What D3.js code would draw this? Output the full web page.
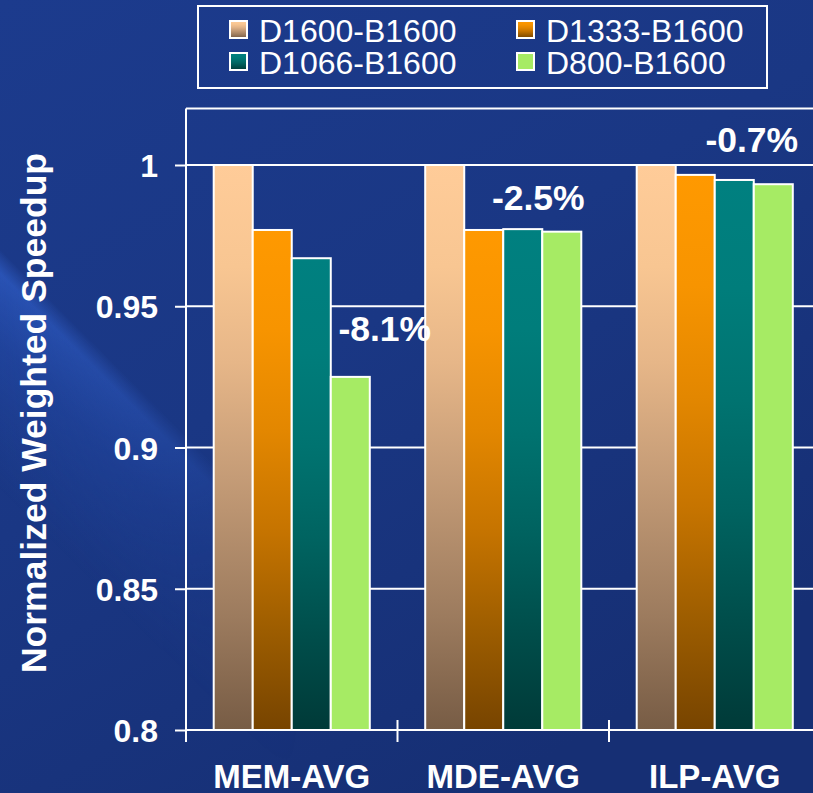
<!DOCTYPE html>
<html>
<head>
<meta charset="utf-8">
<script src="https://cdn.jsdelivr.net/npm/d3@7"></script>
<style>
  html, body { margin: 0; padding: 0; background: #1a3685; }
  svg { display: block; }
  text { font-family: "Liberation Sans", Arial, Helvetica, sans-serif; fill: #ffffff; }
</style>
</head>
<body>
<svg id="chart" width="813" height="793"></svg>
<script>
// Benchmark groups and DRAM/bus frequency configurations
const categories = ["MEM-AVG", "MDE-AVG", "ILP-AVG"];
const seriesNames = ["D1600-B1600", "D1333-B1600", "D1066-B1600", "D800-B1600"];

// Normalized weighted speedup per configuration (one array per series, by category)
const d1600 = [1.000, 1.000, 1.000];
const d1333 = [0.977, 0.977, 0.9965];
const d1066 = [0.967, 0.9773, 0.9947];
const d800  = [0.925, 0.9764, 0.9932];

const yTicks = [0.8, 0.85, 0.9, 0.95, 1];
const yTickLabels = ["0.8", "0.85", "0.9", "0.95", "1"];

// Slowdown callouts for the slowest configuration
const calloutCategories = ["MEM-AVG", "MDE-AVG", "ILP-AVG"];
const calloutTexts = ["-8.1%", "-2.5%", "-0.7%"];

const seriesValues = [d1600, d1333, d1066, d800];
const table = categories.map((c, i) => ({
  category: c,
  values: seriesNames.map((s, j) => ({ series: s, value: seriesValues[j][i] }))
}));

const W = 813, H = 793;
const svg = d3.select("#chart");
const defs = svg.append("defs");

// ---------- background ----------
const bg = defs.append("linearGradient").attr("id", "bg")
  .attr("x1", 0).attr("y1", 0).attr("x2", 0.6).attr("y2", 1);
bg.append("stop").attr("offset", 0).attr("stop-color", "#1c3b8d");
bg.append("stop").attr("offset", 0.5).attr("stop-color", "#1a3784");
bg.append("stop").attr("offset", 1).attr("stop-color", "#162f74");
svg.append("rect").attr("width", W).attr("height", H).attr("fill", "url(#bg)");

// diagonal light streak on the left side
const streak = defs.append("linearGradient").attr("id", "streak")
  .attr("gradientUnits", "userSpaceOnUse")
  .attr("x1", 97).attr("y1", 346).attr("x2", -23).attr("y2", 466);
streak.append("stop").attr("offset", 0).attr("stop-color", "#3a6ad8").attr("stop-opacity", 0);
streak.append("stop").attr("offset", 0.1).attr("stop-color", "#3364d2").attr("stop-opacity", 0.6);
streak.append("stop").attr("offset", 0.4).attr("stop-color", "#2b58c2").attr("stop-opacity", 0.35);
streak.append("stop").attr("offset", 1).attr("stop-color", "#2450b0").attr("stop-opacity", 0);
const fade = defs.append("linearGradient").attr("id", "fadeX")
  .attr("gradientUnits", "userSpaceOnUse")
  .attr("x1", 0).attr("y1", 0).attr("x2", 300).attr("y2", 0);
fade.append("stop").attr("offset", 0).attr("stop-color", "#fff");
fade.append("stop").attr("offset", 0.45).attr("stop-color", "#999");
fade.append("stop").attr("offset", 1).attr("stop-color", "#000");
defs.append("mask").attr("id", "streakMask")
  .append("rect").attr("width", W).attr("height", H).attr("fill", "url(#fadeX)");
svg.append("rect").attr("width", W).attr("height", H)
  .attr("fill", "url(#streak)").attr("mask", "url(#streakMask)");

// ---------- bar gradients ----------
const gradStops = {
  "D1600-B1600": [[0, "#ffcc99"], [0.18, "#f8c692"], [0.35, "#e6b688"], [0.55, "#c59c77"], [0.8, "#9c7b5e"], [1, "#775c45"]],
  "D1333-B1600": [[0, "#ff9900"], [0.2, "#f79400"], [0.4, "#e38700"], [0.6, "#c67400"], [0.8, "#9d5d00"], [1, "#774400"]],
  "D1066-B1600": [[0, "#008080"], [0.2, "#007d7b"], [0.4, "#007370"], [0.6, "#006360"], [0.8, "#004e4b"], [1, "#003a38"]],
  "D800-B1600":  [[0, "#a6eb64"], [1, "#a6eb64"]]
};
seriesNames.forEach((s, i) => {
  const g = defs.append("linearGradient").attr("id", "g" + i)
    .attr("x1", 0).attr("y1", 0).attr("x2", 0).attr("y2", 1);
  gradStops[s].forEach(([o, c]) => g.append("stop").attr("offset", o).attr("stop-color", c));
});
const fillOf = s => "url(#g" + seriesNames.indexOf(s) + ")";

// ---------- scales ----------
const plotLeft = 186, plotRight = 820.5;
const y = d3.scaleLinear().domain([0.8, 1.0]).range([730, 165]);
const yTop = y(1.02);

const x0 = d3.scaleBand().domain(categories).range([plotLeft, plotRight])
  .paddingInner(0.262).paddingOuter(0.131);
const x1 = d3.scaleBand().domain(seriesNames).range([0, x0.bandwidth()]).padding(0);

// ---------- plot frame, gridlines ----------
svg.append("line").attr("x1", plotLeft).attr("x2", W).attr("y1", yTop).attr("y2", yTop)
  .attr("stroke", "#ffffff").attr("stroke-width", 2);

svg.append("g").selectAll("line").data(yTicks.filter(t => t > 0.8)).join("line")
  .attr("x1", plotLeft).attr("x2", W)
  .attr("y1", d => y(d)).attr("y2", d => y(d))
  .attr("stroke", "#ffffff").attr("stroke-width", 2);

// ---------- bars ----------
const groups = svg.append("g").selectAll("g").data(table).join("g")
  .attr("transform", d => `translate(${x0(d.category)},0)`);
groups.selectAll("rect").data(d => d.values).join("rect")
  .attr("x", d => x1(d.series))
  .attr("y", d => y(d.value))
  .attr("width", x1.bandwidth())
  .attr("height", d => y(0.8) - y(d.value))
  .attr("fill", d => fillOf(d.series))
  .attr("stroke", "#ffffff").attr("stroke-width", 2);

// ---------- axes ----------
const yAxis = d3.axisLeft(y).tickValues(yTicks).tickSize(11).tickPadding(17)
  .tickFormat((d, i) => yTickLabels[i]);
const yg = svg.append("g").attr("transform", `translate(${plotLeft},0)`).call(yAxis);
yg.select(".domain").remove();
yg.append("line").attr("x1", 0).attr("x2", 0).attr("y1", yTop).attr("y2", 742)
  .attr("stroke", "#fff").attr("stroke-width", 2);
yg.selectAll(".tick line").attr("stroke", "#fff").attr("stroke-width", 2);
yg.selectAll(".tick text").attr("fill", "#fff")
  .style("font-size", "32px").style("font-weight", "bold")
  .style("font-family", "'Liberation Sans', Arial, sans-serif")
  .attr("dy", "0.36em");

// category axis line with boundary ticks
svg.append("line").attr("x1", plotLeft).attr("x2", W).attr("y1", y(0.8)).attr("y2", y(0.8))
  .attr("stroke", "#fff").attr("stroke-width", 2);
const boundaries = categories.slice(1).map(c => x0(c) - x0.step() * x0.paddingInner() / 2);
svg.append("g").selectAll("line").data(boundaries).join("line")
  .attr("x1", d => d).attr("x2", d => d)
  .attr("y1", y(0.8) - 10).attr("y2", y(0.8) + 12)
  .attr("stroke", "#fff").attr("stroke-width", 2);

svg.append("g").selectAll("text").data(categories).join("text")
  .attr("x", d => x0(d) + x0.bandwidth() / 2)
  .attr("y", 788)
  .attr("text-anchor", "middle")
  .style("font-size", "33px").style("font-weight", "bold")
  .text(d => d);

// y title
svg.append("text")
  .attr("transform", "translate(46,413) rotate(-90)")
  .attr("text-anchor", "middle")
  .style("font-size", "35.5px").style("font-weight", "bold")
  .text("Normalized Weighted Speedup");

// ---------- callouts ----------
const calloutOffset = { "MEM-AVG": [93, 0.9377], "MDE-AVG": [35, 0.984], "ILP-AVG": [37, 1.0046] };
svg.append("g").selectAll("text").data(calloutCategories).join("text")
  .attr("x", (c) => x0(c) + x0.bandwidth() / 2 + calloutOffset[c][0])
  .attr("y", (c) => y(calloutOffset[c][1]))
  .attr("text-anchor", "middle")
  .style("font-size", "35.5px").style("font-weight", "bold")
  .text((c, i) => calloutTexts[i]);

// ---------- legend ----------
const legend = svg.append("g");
legend.append("rect").attr("x", 198).attr("y", 6).attr("width", 569).attr("height", 82)
  .attr("fill", "none").attr("stroke", "#fff").attr("stroke-width", 2);
const legendCols = [230, 517], legendRows = [30, 62];
const items = legend.selectAll("g.item").data(seriesNames).join("g").attr("class", "item")
  .attr("transform", (d, i) => `translate(${legendCols[i % 2]},${legendRows[Math.floor(i / 2)]})`);
items.append("rect").attr("x", 0).attr("y", -9).attr("width", 17).attr("height", 17)
  .attr("fill", d => fillOf(d)).attr("stroke", "#fff").attr("stroke-width", 2);
items.append("text").attr("x", 29).attr("y", 0).attr("dy", "0.36em")
  .style("font-size", "32px")
  .text(d => d);
</script>
</body>
</html>
